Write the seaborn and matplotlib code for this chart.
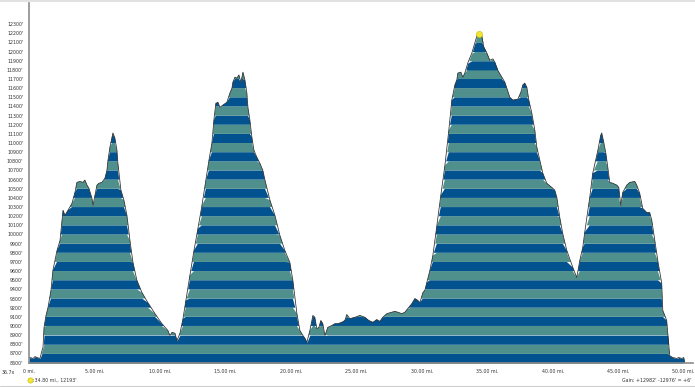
import matplotlib
matplotlib.use('Agg')
import matplotlib.pyplot as plt
from matplotlib.lines import Line2D
import numpy as np
import seaborn as sns

# elevation profile (miles, feet)
miles = [0.00, 0.08, 0.31, 0.46, 0.61, 0.84, 0.99, 1.07, 1.15, 1.30,
         1.45, 1.68, 1.83, 2.14, 2.37, 2.52, 2.60, 2.75, 2.98, 3.28,
         3.51, 3.66, 3.89, 4.12, 4.27, 4.43, 4.58, 4.81, 4.89, 5.04,
         5.19, 5.34, 5.57, 5.80, 5.95, 6.03, 6.18, 6.34, 6.41, 6.56,
         6.72, 6.79, 7.02, 7.25, 7.48, 7.71, 7.94, 8.24, 8.63, 9.08,
         9.62, 10.15, 10.61, 10.76, 10.92, 11.15, 11.30, 11.53, 11.76, 11.98,
         12.29, 12.60, 12.90, 13.21, 13.51, 13.74, 13.97, 14.12, 14.27, 14.43,
         14.58, 14.81, 15.11, 15.34, 15.50, 15.57, 15.73, 15.88, 16.03, 16.18,
         16.26, 16.34, 16.49, 16.64, 16.72, 16.87, 17.02, 17.18, 17.40, 17.63,
         17.86, 18.02, 18.40, 18.78, 19.16, 19.54, 19.92, 20.15, 20.46, 20.69,
         20.92, 21.07, 21.22, 21.45, 21.68, 21.83, 21.98, 22.14, 22.29, 22.44,
         22.60, 22.82, 23.13, 23.36, 23.59, 23.89, 24.12, 24.27, 24.50, 24.89,
         25.27, 25.65, 25.95, 26.26, 26.56, 26.79, 27.02, 27.33, 27.71, 27.94,
         28.17, 28.47, 28.70, 28.93, 29.24, 29.47, 29.69, 29.85, 30.08, 30.23,
         30.38, 30.61, 30.84, 31.15, 31.45, 31.76, 32.06, 32.29, 32.52, 32.67,
         32.75, 32.98, 33.13, 33.28, 33.51, 33.82, 34.05, 34.20, 34.35, 34.58,
         34.73, 34.96, 35.19, 35.42, 35.57, 35.80, 36.11, 36.34, 36.49, 36.72,
         36.95, 37.33, 37.56, 37.71, 37.86, 38.02, 38.17, 38.40, 38.63, 38.78,
         39.01, 39.24, 39.54, 39.92, 40.15, 40.31, 40.53, 40.76, 41.07, 41.53,
         41.83, 42.06, 42.29, 42.44, 42.82, 43.05, 43.44, 43.66, 43.74, 43.89,
         44.05, 44.20, 44.35, 44.58, 44.89, 45.04, 45.19, 45.34, 45.65, 45.88,
         46.26, 46.41, 46.64, 46.87, 47.18, 47.40, 47.56, 47.79, 48.02, 48.32,
         48.40, 48.70, 48.78, 48.93, 49.16, 49.47, 49.62, 49.85, 50.00, 50.05]
elev_ft = [8645, 8655, 8645, 8665, 8655, 8645, 8730, 8765, 8985, 9115,
           9200, 9390, 9610, 9825, 9935, 10155, 10265, 10210, 10265, 10340,
           10460, 10570, 10580, 10570, 10595, 10540, 10505, 10395, 10320, 10430,
           10540, 10560, 10570, 10615, 10700, 10810, 10955, 11065, 11110, 11055,
           10920, 10780, 10485, 10375, 10210, 9935, 9695, 9500, 9365, 9255,
           9135, 9025, 8950, 8895, 8930, 8920, 8840, 8920, 9080, 9280,
           9555, 9825, 10065, 10320, 10595, 10810, 11000, 11250, 11435, 11445,
           11390, 11415, 11445, 11545, 11600, 11665, 11720, 11710, 11745, 11665,
           11720, 11775, 11690, 11545, 11390, 11250, 11065, 10920, 10845, 10780,
           10700, 10595, 10375, 10210, 9990, 9825, 9695, 9500, 9135, 8950,
           8895, 8865, 8820, 8950, 9115, 9095, 8970, 8985, 9060, 9025,
           8895, 8985, 9005, 9025, 9025, 9040, 9060, 9125, 9080, 9095,
           9115, 9095, 9060, 9040, 9070, 9050, 9095, 9135, 9150, 9160,
           9150, 9135, 9150, 9190, 9245, 9300, 9280, 9255, 9365, 9390,
           9475, 9605, 9770, 10100, 10430, 10755, 11140, 11470, 11635, 11690,
           11765, 11775, 11720, 11765, 11875, 11985, 12095, 12170, 12193, 12170,
           12050, 11985, 11905, 11920, 11885, 11795, 11720, 11665, 11600, 11500,
           11470, 11480, 11555, 11635, 11655, 11610, 11470, 11325, 11140, 10955,
           10810, 10670, 10560, 10515, 10485, 10405, 10190, 10010, 9825, 9640,
           9530, 9715, 9860, 10025, 10405, 10670, 10920, 11085, 11110, 11010,
           10890, 10735, 10570, 10560, 10540, 10515, 10320, 10460, 10540, 10570,
           10580, 10540, 10450, 10285, 10240, 10240, 10155, 9935, 9715, 9465,
           9170, 9060, 8920, 8675, 8655, 8645, 8655, 8645, 8655, 8600]

peak_mile = 34.35
peak_ft = 12193

xtick_miles = [0, 5, 10, 15, 20, 25, 30, 35, 40, 45, 50]
xtick_labels = ['0 mi.', '5.00 mi.', '10.00 mi.', '15.00 mi.', '20.00 mi.',
                '25.00 mi.', '30.00 mi.', '35.00 mi.', '40.00 mi.',
                '45.00 mi.', '50.00 mi.']
ytick_ft = list(range(8600, 12301, 100))

zoom_label = '36.7x'
cursor_label = ":34.80 mi., 12193'"
gain_label = "Gain: +12982' -12976' = +6'"

dark = '#02528f'
teal = '#4f8f8c'

sns.set_style('white')
plt.rcParams['font.family'] = ['DejaVu Sans']

fig = plt.figure(figsize=(6.95, 3.87), dpi=100)
ax = fig.add_axes([0.0417, 0.062, 0.9553, 0.930])

x = np.array(miles)
y = np.array(elev_ft)

# striped fill, colour switches every 100 ft
for lo in range(8500, 12300, 100):
    hi = lo + 100
    color = dark if (lo // 100) % 2 == 0 else teal
    ax.fill_between(x, lo, np.minimum(y, hi), where=y > lo, interpolate=True,
                    color=color, lw=0)

sns.lineplot(x=miles, y=elev_ft, ax=ax, color='#2b2b2b', lw=0.55,
             sort=False, estimator=None)
sns.scatterplot(x=[peak_mile], y=[peak_ft], ax=ax, color='#f3e436', s=20,
                edgecolor='#c9b900', linewidth=0.4, zorder=5)

ax.set_xlim(0, 50.7)
ax.set_ylim(8595, 12530)
ax.set_xticks(xtick_miles)
ax.set_xticklabels(xtick_labels)
ax.set_yticks(ytick_ft)
ax.set_yticklabels([f"{v}'" for v in ytick_ft])
ax.tick_params(axis='both', length=2.5, width=0.6, color='#555555',
               labelsize=3.4, labelcolor='#333333', pad=1.5)
ax.set_xlabel('')
ax.set_ylabel('')
for side in ['top', 'right']:
    ax.spines[side].set_visible(False)
for side in ['left', 'bottom']:
    ax.spines[side].set_color('#8c8c8c')
    ax.spines[side].set_linewidth(1.2)

fig.text(0.002, 1 - 372 / 387, zoom_label, fontsize=3.4, color='#333333',
         va='center', ha='left')
fig.add_artist(Line2D([30 / 695], [1 - 380 / 387], marker='o', markersize=3.8,
                      color='#f3e436', markeredgecolor='#c9b900',
                      markeredgewidth=0.4, transform=fig.transFigure))
fig.text(33 / 695, 1 - 380 / 387, cursor_label, fontsize=3.4, color='#333333',
         va='center', ha='left')
fig.text(0.995, 1 - 380 / 387, gain_label, fontsize=3.4, color='#333333',
         va='center', ha='right')
fig.add_artist(Line2D([0, 1], [1 - 385.5 / 387] * 2, color='#cfcfcf', lw=0.8,
                      transform=fig.transFigure))
fig.add_artist(Line2D([0, 1], [1 - 1 / 387] * 2, color='#e2e2e2', lw=1.5,
                      transform=fig.transFigure))

fig.savefig('out.png', dpi=100)
plt.close(fig)
